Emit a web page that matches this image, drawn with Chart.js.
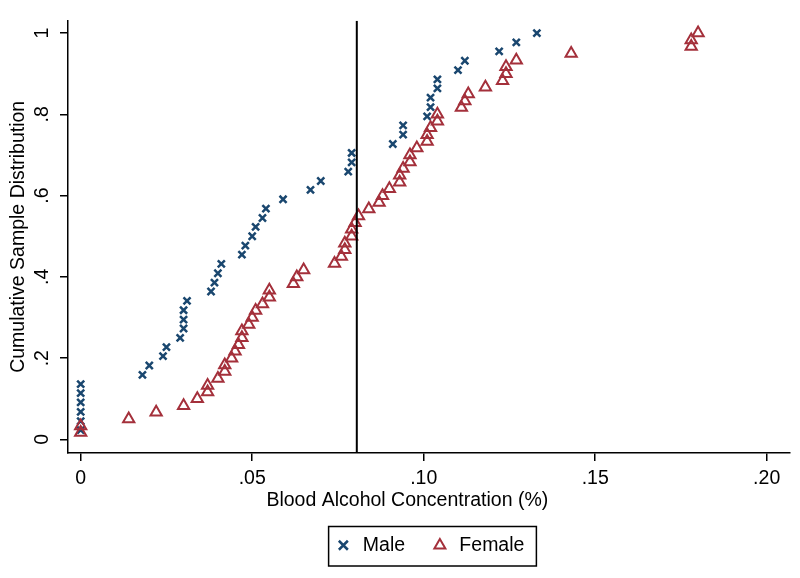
<!DOCTYPE html>
<html>
<head>
<meta charset="utf-8">
<script src="https://cdn.jsdelivr.net/npm/chart.js@4.4.1/dist/chart.umd.min.js"></script>
<style>
  html, body { margin: 0; padding: 0; background: #fff; }
</style>
</head>
<body>
<canvas id="bacChart" width="800" height="578"></canvas>
<script>
// blood alcohol values (sorted) and cumulative share
const maleBac = [0, 0, 0, 0, 0, 0, 0.018, 0.020, 0.024, 0.025, 0.029, 0.030, 0.030, 0.030, 0.031,
  0.038, 0.039, 0.040, 0.041, 0.047, 0.048, 0.050, 0.051, 0.053, 0.054, 0.059, 0.067, 0.070,
  0.078, 0.079, 0.079, 0.091, 0.094, 0.094, 0.101, 0.102, 0.102, 0.104, 0.104, 0.110, 0.112,
  0.122, 0.127, 0.133];
const maleCdf = [.023, .045, .068, .091, .114, .136, .159, .182, .205, .227, .25, .273, .295, .318,
  .341, .364, .386, .409, .432, .455, .477, .5, .523, .545, .568, .591, .614, .636, .659, .682,
  .705, .727, .75, .773, .795, .818, .841, .864, .886, .909, .932, .955, .977, 1];

const femaleBac = [0, 0, 0.014, 0.022, 0.030, 0.034, 0.037, 0.037, 0.040, 0.042, 0.042, 0.044,
  0.045, 0.046, 0.047, 0.047, 0.049, 0.050, 0.051, 0.053, 0.055, 0.055, 0.062, 0.063, 0.065,
  0.074, 0.076, 0.077, 0.077, 0.079, 0.079, 0.080, 0.081, 0.084, 0.087, 0.088, 0.090, 0.093,
  0.093, 0.094, 0.096, 0.096, 0.098, 0.101, 0.101, 0.102, 0.104, 0.104, 0.111, 0.112, 0.113,
  0.118, 0.123, 0.124, 0.124, 0.127, 0.143, 0.178, 0.178, 0.180];
const femaleCdf = [.017, .033, .05, .067, .083, .1, .117, .133, .15, .167,
  .183, .2, .217, .233, .25, .267, .283, .3, .317, .333,
  .35, .367, .383, .4, .417, .433, .45, .467, .483, .5,
  .517, .533, .55, .567, .583, .6, .617, .633, .65, .667,
  .683, .7, .717, .733, .75, .767, .783, .8, .817, .833,
  .85, .867, .883, .9, .917, .933, .95, .967, .983, 1];

const legalLimit = 0.0805;

const xTicks = [0, 0.05, 0.10, 0.15, 0.20];
const xTickLabels = ['0', '.05', '.10', '.15', '.20'];
const yTicks = [0, 0.2, 0.4, 0.6, 0.8, 1];
const yTickLabels = ['0', '.2', '.4', '.6', '.8', '1'];

const xMin = -0.0037, xMax = 0.2068;
const yMin = -0.0334, yMax = 1.0305;

const toPoints = (xs, ys) => xs.map((x, i) => ({ x: x, y: ys[i] }));

// stata style box round the legend
const legendBox = {
  id: 'legendBox',
  afterDraw(chart) {
    const boxes = chart.legend && chart.legend.legendHitBoxes;
    if (!boxes || !boxes.length) return;
    const first = boxes[0], last = boxes[boxes.length - 1];
    const ctx = chart.ctx;
    const left = first.left - 5;
    const right = last.left + last.width + 12;
    ctx.save();
    ctx.strokeStyle = '#000';
    ctx.lineWidth = 1.5;
    ctx.strokeRect(left, first.top - 9, right - left, first.height + 20);
    ctx.restore();
  }
};

Chart.defaults.font.family = '"Liberation Sans", Arial, sans-serif';
Chart.defaults.font.size = 19.5;
Chart.defaults.color = '#000';

const axisGrid = { drawOnChartArea: false, color: '#000', lineWidth: 1.5, tickLength: 8 };
const axisBorder = { color: '#000', width: 1.5 };

new Chart(document.getElementById('bacChart').getContext('2d'), {
  type: 'scatter',
  data: {
    datasets: [
      {
        label: 'Male',
        data: toPoints(maleBac, maleCdf),
        pointStyle: 'crossRot',
        radius: 5,
        borderWidth: 2.5,
        borderColor: '#1a476f',
        backgroundColor: '#1a476f',
        order: 2
      },
      {
        label: 'Female',
        data: toPoints(femaleBac, femaleCdf),
        pointStyle: 'triangle',
        radius: 6.5,
        borderWidth: 2,
        borderColor: '#a4303b',
        backgroundColor: 'rgba(0,0,0,0)',
        order: 1
      },
      {
        type: 'line',
        label: 'limit',
        data: [{ x: legalLimit, y: yMin }, { x: legalLimit, y: yMax }],
        borderColor: '#000',
        borderWidth: 2,
        pointRadius: 0,
        order: 0
      }
    ]
  },
  options: {
    responsive: false,
    animation: false,
    events: [],
    layout: { padding: { top: 10, right: 10, bottom: 13, left: 0 } },
    scales: {
      x: {
        type: 'linear',
        min: xMin,
        max: xMax,
        grid: axisGrid,
        border: axisBorder,
        afterBuildTicks: s => { s.ticks = xTicks.map(v => ({ value: v })); },
        afterFit: s => { s.height = 57.5; },
        ticks: {
          padding: 6,
          autoSkip: false,
          maxRotation: 0,
          callback: (v, i) => xTickLabels[i]
        },
        title: {
          display: true,
          text: 'Blood Alcohol Concentration (%)        ',
          padding: { top: 0, bottom: -2 }
        }
      },
      y: {
        type: 'linear',
        min: yMin,
        max: yMax,
        grid: axisGrid,
        border: axisBorder,
        afterBuildTicks: s => { s.ticks = yTicks.map(v => ({ value: v })); },
        afterFit: s => { s.width = 68; },
        ticks: {
          padding: 9,
          autoSkip: false,
          minRotation: 90,
          maxRotation: 90,
          crossAlign: 'center',
          callback: (v, i) => yTickLabels[i]
        },
        title: {
          display: true,
          text: 'Cumulative Sample Distribution',
          padding: { top: 7, bottom: 0 }
        }
      }
    },
    plugins: {
      tooltip: { enabled: false },
      legend: {
        position: 'bottom',
        fullSize: false,
        labels: {
          usePointStyle: true,
          boxHeight: 9,
          padding: 25,
          font: { size: 19.5 },
          filter: item => item.datasetIndex < 2,
          sort: (a, b) => a.datasetIndex - b.datasetIndex
        }
      }
    }
  },
  plugins: [legendBox]
});
</script>
</body>
</html>
